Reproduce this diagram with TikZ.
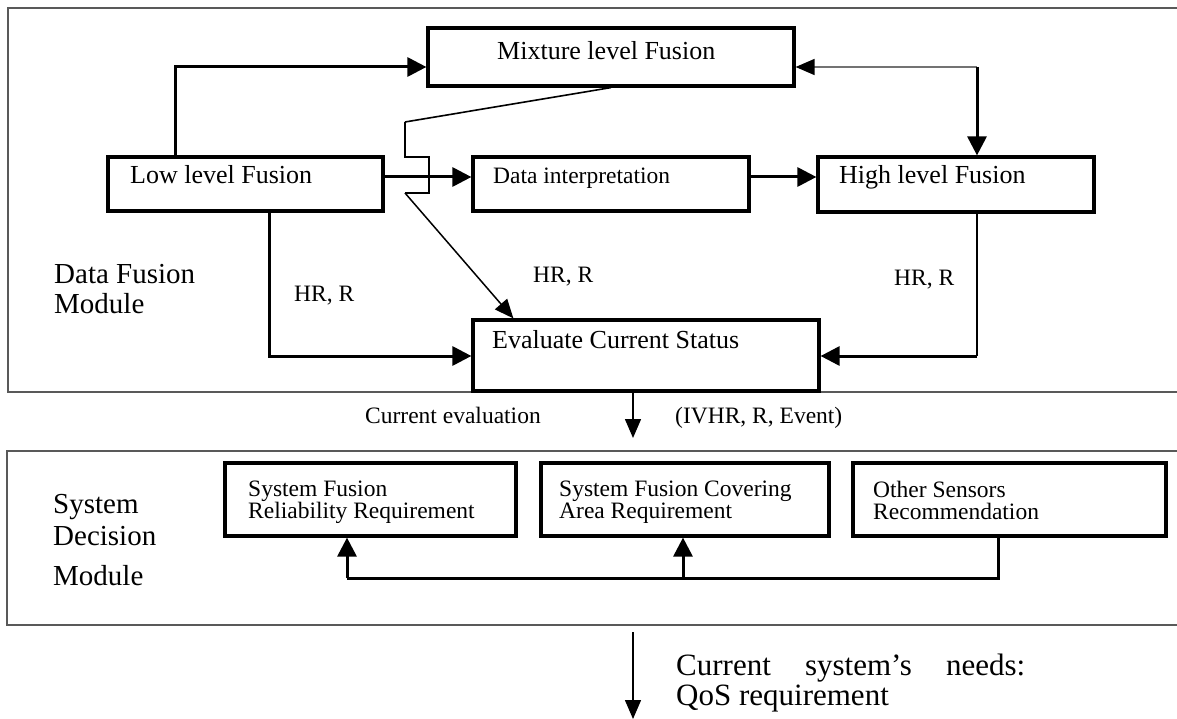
\documentclass[tikz,border=0pt]{standalone}
\usepackage{fontspec}
\setmainfont{Liberation Serif}
\usetikzlibrary{arrows.meta,calc}
\begin{document}
\begin{tikzpicture}[x=1pt,y=-1pt,
  box/.style={draw, line width=3.2pt, inner sep=0pt},
  big/.style={font=\fontsize{26}{30}\selectfont, inner sep=0pt},
  small/.style={font=\fontsize{23.5}{22}\selectfont, inner sep=0pt},
  modtext/.style={font=\fontsize{29}{30}\selectfont, inner sep=0pt, align=left},
  fintext/.style={font=\fontsize{31}{30}\selectfont, inner sep=0pt},
  conn/.style={line width=3pt, -{Triangle[length=19pt,width=19pt]}},
  thinconn/.style={line width=1.5pt, -{Triangle[length=19pt,width=16pt,color=black]}},
  thickline/.style={line width=3pt},
  thinline/.style={line width=1.6pt},
  frame/.style={line width=2pt, draw=black!65}]
\useasboundingbox (0,0) rectangle (1177,719);
\fill[white] (0,0) rectangle (1177,719);

% module frames
\draw[frame] (1177,8) -- (8,8) -- (8,392) -- (1177,392);
\draw[frame] (1177,451) -- (7,451) -- (7,625) -- (1177,625);

% boxes
\node[box, minimum width=366pt, minimum height=58pt] (mix) at (611,57) {};
\node[box, minimum width=275pt, minimum height=54pt] (low) at (245.5,184) {};
\node[box, minimum width=276pt, minimum height=54pt] (dat) at (611,184) {};
\node[box, minimum width=276pt, minimum height=55pt] (high) at (956,184.5) {};
\node[box, minimum width=346pt, minimum height=71pt] (eval) at (646,355.5) {};
\node[box, minimum width=291pt, minimum height=73pt] (b1) at (370.5,499.5) {};
\node[box, minimum width=288pt, minimum height=73pt] (b2) at (685,499.5) {};
\node[box, minimum width=313pt, minimum height=73pt] (b3) at (1009.5,499.5) {};

% box texts
\node[big, anchor=base west] (mixt) at (497,60) {Mixture level Fusion};
\node[big, anchor=base west] (lowt) at (130,184) {Low level Fusion};
\node[small, anchor=base west] (datt) at (493,184) {Data interpretation};
\node[big, anchor=base west] (hight) at (839,184) {High level Fusion};
\node[big, anchor=base west] (evalt) at (492,348) {Evaluate Current Status};
\node[small, anchor=north west, align=left] (b1t) at (248,481) {System Fusion\\Reliability Requirement};
\node[small, anchor=north west, align=left] (b2t) at (559,481) {System Fusion Covering\\Area Requirement};
\node[small, anchor=north west, align=left] (b3t) at (873,481) {Other Sensors\\Recommendation};

% module labels
\node[modtext, anchor=north west] (dfm) at (54,264) {Data Fusion\\Module};
\node[modtext, anchor=north west, font=\fontsize{29}{32}\selectfont] (sdm) at (53,494) {System\\Decision\\[8pt]Module};

% edge labels
\node[small, anchor=base west] (hr1) at (294,301) {HR, R};
\node[small, anchor=base west] (hr2) at (533,283) {HR, R};
\node[small, anchor=base west] (hr3) at (894,285) {HR, R};
\node[small, anchor=base west] (cev) at (365,423) {Current evaluation};
\node[small, anchor=base west] (ivhr) at (675,423) {(IVHR, R, Event)};
\node[fintext, anchor=base west] (need1) at (676,675) {\makebox[349pt][s]{Current system’s needs:}};
\node[fintext, anchor=base west] (need2) at (676,705) {QoS requirement};

% coordinates
\coordinate (k1) at (175,67);
\coordinate (k2) at (977,67);
\coordinate (k3) at (0,177);
\coordinate (k4) at (269,356);
\coordinate (k5) at (977,356);
\coordinate (k6) at (633,438);
\coordinate (c1) at (405,122);
\coordinate (c2) at (405,157);
\coordinate (c3) at (429,157);
\coordinate (c4) at (429,193);
\coordinate (c5) at (405,193);
\coordinate (m1) at (347,578);
\coordinate (m2) at (683,578);
\coordinate (m3) at (998,578);
\coordinate (f1) at (633,632);
\coordinate (f2) at (633,719);

% top connectors
\draw[conn] (low.north -| k1) |- (k1 -| mix.west);
\draw[thinconn, draw=black!55] (k2) -- (k2 -| mix.east);
\draw[conn] (k2) -- (k2 |- high.north);
\draw[conn] (low.east |- k3) -- (dat.west |- k3);
\draw[conn] (dat.east |- k3) -- (high.west |- k3);

% crossover line
\draw[thinline] (mix.south) -- (c1);
\draw[line width=2.6pt] (c1) -- (c2) -- (c3) -- (c4) -- (c5);
\draw[thinconn] (c5) -- ($(eval.north west)+(42,0)$);

% into evaluate
\draw[conn] (low.south -| k4) |- (eval.west |- k4);
\draw[thinline] (high.south -| k5) -- (k5);
\draw[conn] (k5) -- (eval.east |- k5);
\draw[thinconn] (eval.south -| k6) -- (k6);

% decision module
\draw[thickline] (b3.south -| m3) -- (m3) -- (m1);
\draw[conn] (m1) -- (m1 |- b1.south);
\draw[conn] (m2) -- (m2 |- b2.south);

% final arrow
\draw[thinconn] (f1) -- (f2);
\end{tikzpicture}
\end{document}
